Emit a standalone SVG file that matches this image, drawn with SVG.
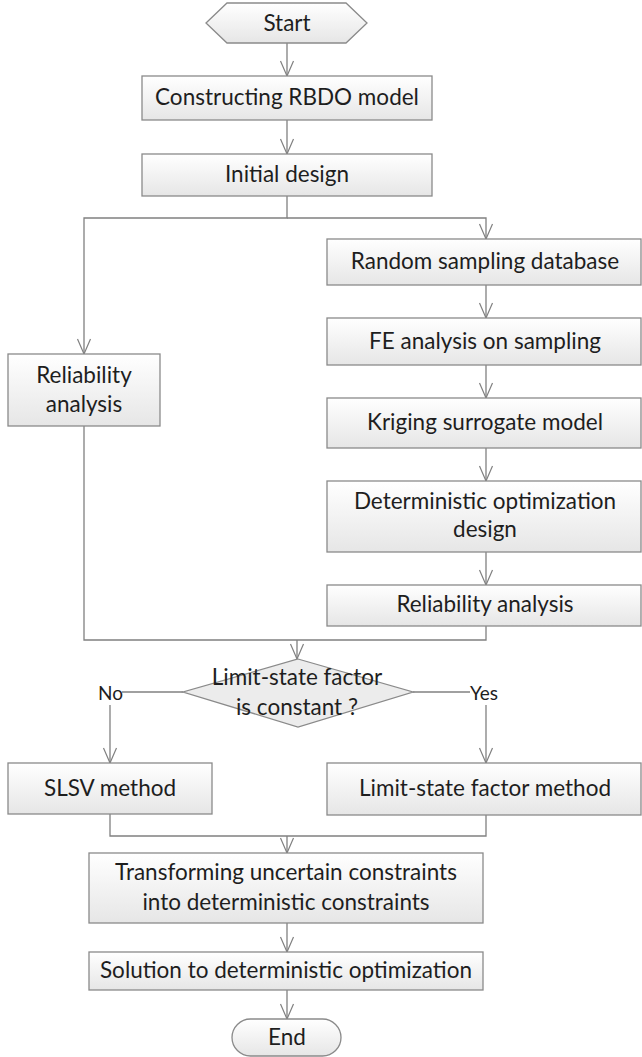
<svg xmlns="http://www.w3.org/2000/svg" width="642" height="1057" viewBox="0 0 642 1057">
<defs>
<linearGradient id="g" x1="0" y1="0" x2="0" y2="1">
<stop offset="0" stop-color="#ffffff"/>
<stop offset="1" stop-color="#e6e6e6"/>
</linearGradient>
<marker id="a" markerUnits="userSpaceOnUse" viewBox="-16 -8 18 16" refX="0" refY="0" markerWidth="18" markerHeight="16" orient="auto">
<path d="M-15,-6.5 L0,0 L-15,6.5" fill="none" stroke="#808080" stroke-width="1.2"/>
</marker>
<style>
.b{fill:url(#g);stroke:#8a8a8a;stroke-width:1.3}
.t{font-family:Lato,"Liberation Sans",sans-serif;font-size:22.5px;fill:#1e1e1e;text-anchor:middle}
.s{font-family:Lato,"Liberation Sans",sans-serif;font-size:19px;fill:#1e1e1e}
.c{fill:none;stroke:#808080;stroke-width:1.3}
.ar{marker-end:url(#a)}
</style>
</defs>
<rect width="642" height="1057" fill="#fff"/>
<g id="connectors">
<path class="c ar" d="M287,43 V76"/>
<path class="c ar" d="M287,120 V154"/>
<path class="c ar" d="M287,196 V218 H84 V354"/>
<path class="c ar" d="M287,218 H486 V239"/>
<path class="c ar" d="M486,285 V318"/>
<path class="c ar" d="M486,365 V398"/>
<path class="c ar" d="M486,448 V481"/>
<path class="c ar" d="M486,552 V585"/>
<path class="c" d="M84,426 V640 H486 V626"/>
<path class="c ar" d="M297,640 V659"/>
<path class="c" d="M183,692 H122"/>
<path class="c ar" d="M110,705 V763"/>
<path class="c" d="M413,692 H470"/>
<path class="c ar" d="M486,705 V763"/>
<path class="c" d="M110,814 V836 H486 V815"/>
<path class="c ar" d="M287,836 V853"/>
<path class="c ar" d="M287,923 V952"/>
<path class="c ar" d="M287,990 V1019"/>
<text class="s" x="98" y="700">No</text>
<text class="s" x="470" y="700">Yes</text>
</g>
<g id="start">
<polygon class="b" points="206,23 227,3 346,3 367,23 346,43 227,43"/>
<text class="t" x="287" y="31">Start</text>
</g>
<g id="constructing">
<rect class="b" x="142" y="76" width="290" height="44"/>
<text class="t" x="287" y="105">Constructing RBDO model</text>
</g>
<g id="initial">
<rect class="b" x="142" y="154" width="290" height="42"/>
<text class="t" x="287" y="182">Initial design</text>
</g>
<g id="reliability-left">
<rect class="b" x="8" y="354" width="152" height="72"/>
<text class="t" x="84" y="383">Reliability</text>
<text class="t" x="84" y="412">analysis</text>
</g>
<g id="random">
<rect class="b" x="327" y="239" width="314" height="46"/>
<text class="t" x="485" y="269">Random sampling database</text>
</g>
<g id="fe">
<rect class="b" x="327" y="318" width="314" height="47"/>
<text class="t" x="485" y="349">FE analysis on sampling</text>
</g>
<g id="kriging">
<rect class="b" x="327" y="398" width="314" height="50"/>
<text class="t" x="485" y="430">Kriging surrogate model</text>
</g>
<g id="deterministic">
<rect class="b" x="327" y="481" width="314" height="71"/>
<text class="t" x="485" y="509">Deterministic optimization</text>
<text class="t" x="485" y="537">design</text>
</g>
<g id="reliability-right">
<rect class="b" x="327" y="585" width="314" height="41"/>
<text class="t" x="485" y="612">Reliability analysis</text>
</g>
<g id="decision">
<polygon points="298,659 413,692 298,727 183,692" fill="#ececec" stroke="#8a8a8a" stroke-width="1.3"/>
<text class="t" x="297" y="685">Limit-state factor</text>
<text class="t" x="297" y="715">is constant ?</text>
</g>
<g id="slsv">
<rect class="b" x="8" y="763" width="204" height="51"/>
<text class="t" x="110" y="796">SLSV method</text>
</g>
<g id="lsf">
<rect class="b" x="327" y="763" width="314" height="52"/>
<text class="t" x="485" y="796">Limit-state factor method</text>
</g>
<g id="transforming">
<rect class="b" x="89" y="853" width="394" height="70"/>
<text class="t" x="286" y="880">Transforming uncertain constraints</text>
<text class="t" x="286" y="910">into deterministic constraints</text>
</g>
<g id="solution">
<rect class="b" x="89" y="952" width="394" height="38"/>
<text class="t" x="286" y="978">Solution to deterministic optimization</text>
</g>
<g id="end">
<rect class="b" x="232" y="1019" width="109" height="37" rx="18.5"/>
<text class="t" x="287" y="1045">End</text>
</g>
</svg>
